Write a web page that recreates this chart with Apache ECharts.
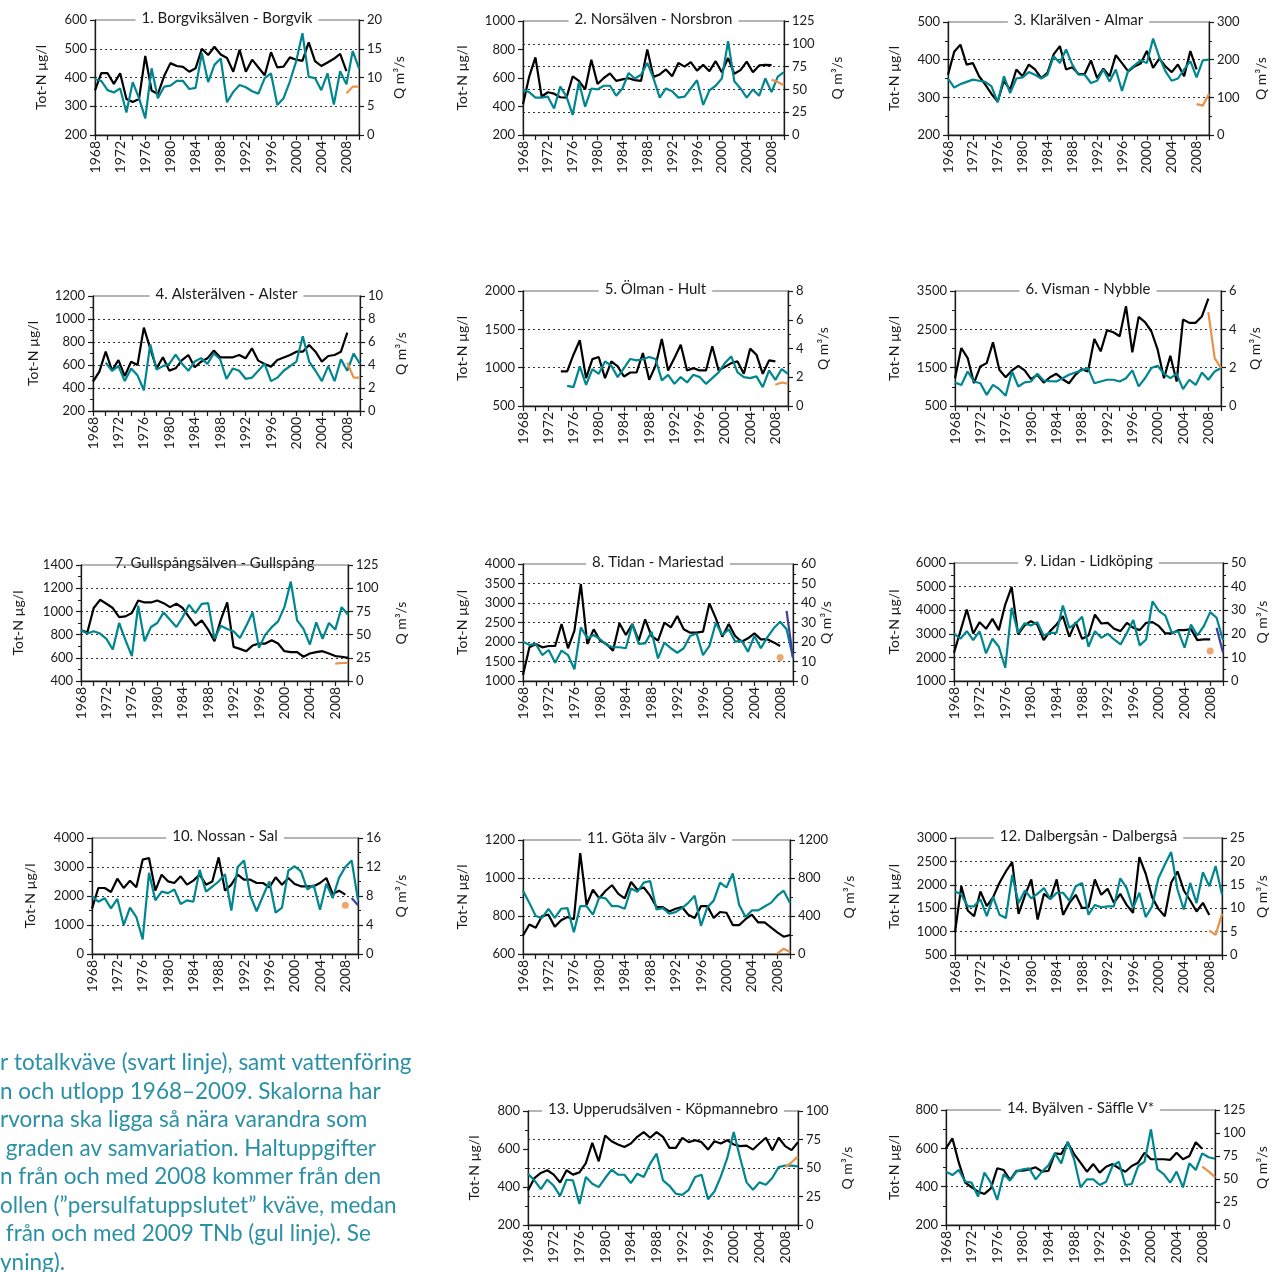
<!DOCTYPE html>
<html>
<head>
<meta charset="utf-8">
<script src="https://cdn.jsdelivr.net/npm/echarts@6/dist/echarts.min.js"></script>
<style>
  html, body { margin: 0; padding: 0; background: #fff; }
  #chart { width: 1274px; height: 1272px; }
</style>
</head>
<body>
<div id="chart"></div>
<script>
// Year categories shared by every panel
const years = ['1968','1969','1970','1971','1972','1973','1974','1975','1976','1977',
  '1978','1979','1980','1981','1982','1983','1984','1985','1986','1987',
  '1988','1989','1990','1991','1992','1993','1994','1995','1996','1997',
  '1998','1999','2000','2001','2002','2003','2004','2005','2006','2007',
  '2008','2009','2010'];

// Tot-N (µg/l), flow Q (m³/s), TNb (µg/l) per station
const n1 = [355,415,415,378,415,325,315,325,475,355,342,405,450,440,437,420,432,500,478,507,480,468,420,496,420,462,435,408,488,435,438,470,462,458,522,457,440,452,465,482,422];
const q1 = [9.7,9.4,7.8,7.4,8.1,3.9,9.2,6.4,2.9,11.6,6.4,8.4,8.6,9.4,9.4,8.0,8.2,14.2,9.2,12.2,13.3,5.7,7.5,8.7,8.3,7.6,7.2,9.9,10.7,5.2,6.4,9.3,12.8,17.7,10.1,9.9,7.8,10.7,5.3,11.1,8.8,14.6,11.6];
const tnb1 = [345,368,368];

const n2 = [415,610,745,470,500,490,465,462,612,580,520,728,558,600,632,580,590,598,585,580,800,608,625,660,612,705,680,712,652,692,648,718,640,740,630,655,715,640,688,692,690];
const q2 = [49.6,47,41,41,42,29,53,42,22,58,31,51,50,54,54,43,51,68,62,66,79,62,41,51,48,41,42,51,60,33,49,54,62,103,59,51,41,50,43,62,47,64,69];
const tnb2 = [588,572,548];

const n3 = [360,421,440,387,391,356,334,309,289,344,320,374,356,387,374,351,365,414,436,374,380,362,362,398,351,376,356,412,391,369,382,390,423,378,403,382,367,387,356,423,374];
const q3 = [150,126,135,141,147,144,141,129,87,156,111,150,153,167,160,150,160,209,191,227,187,160,160,138,144,174,142,174,117,171,185,198,191,256,207,169,144,150,174,196,153,198,200];
const tnb3 = [282,278,309];

const n4 = [455,542,716,551,643,504,629,600,925,745,571,667,551,571,643,687,580,629,658,725,667,667,667,687,658,745,638,609,586,643,665,687,716,716,774,716,629,678,687,716,881];
const q4 = [4.2,3.5,3.9,2.6,3.7,3.1,1.8,5.8,3.6,3.9,4.1,4.9,4.1,3.5,4.3,4.6,4.1,5.0,4.5,2.8,3.7,3.5,2.8,2.9,3.5,4.1,2.6,2.9,3.5,3.9,4.3,6.5,4.3,3.5,2.6,3.9,2.6,4.5,3.5,5.0,4.1];
const tnb4 = [620,490,490];

const n5 = [951,951,1169,1357,863,1112,1139,863,1082,1016,885,937,937,1191,841,1025,1375,964,1125,1300,964,994,964,964,1279,964,1010,1060,1082,920,1248,1169,920,1095,1082];
const q5 = [1.40,1.31,2.76,1.47,2.57,2.24,3.10,2.80,2.01,2.64,3.27,3.17,3.25,3.41,3.27,1.78,2.17,1.54,2.01,1.64,2.17,2.01,1.54,1.94,2.34,2.99,3.45,2.34,2.01,1.94,2.06,1.31,2.48,1.82,2.57,2.24];
const tnb5 = [776,806,790];

const n6 = [1225,2013,1750,1094,1531,1619,2161,1444,1251,1427,1549,1427,1199,1313,1111,1250,1339,1199,1094,1313,1461,1400,2249,1925,2476,2424,2319,3106,1899,2826,2686,2450,1969,1225,1811,1138,2756,2669,2669,2844,3299];
const q6 = [1.23,1.10,1.80,1.28,1.19,0.58,1.10,0.88,0.53,1.80,1.02,1.23,1.28,1.68,1.33,1.30,1.28,1.45,1.63,1.75,1.86,1.98,1.19,1.28,1.37,1.37,1.28,1.45,1.86,1.02,1.45,1.98,2.10,1.68,1.45,1.68,0.88,1.37,1.10,1.75,1.37,1.80,1.98];
const tnb6 = [2950,1750,1490];

const n7 = [837,820,1029,1100,1066,1029,951,957,986,1094,1077,1077,1094,1071,1037,1066,1029,951,877,923,843,743,929,1077,694,677,657,706,723,723,751,723,657,649,649,609,637,649,657,637,615,609,600];
const q7 = [54.6,51.1,53.6,51.1,45.4,33.9,62.5,43.9,26.8,81.1,42.9,58.2,62.5,73.9,66.1,58.2,68.9,82.1,73.2,83.2,83.9,45.4,59.6,56.1,53.6,46.4,59.6,73.9,35.7,50.0,58.0,64.3,79.6,107.1,65.4,56.1,39.3,63.2,45.4,62.5,55.4,79.6,71.4];
const tnb7 = [550,555,557];

const n8 = [1154,1863,1949,1863,1897,1897,2462,1838,2291,3487,1949,2325,2034,1949,1778,2479,2179,2462,2034,2581,2154,2034,2496,2376,2667,2325,2239,2239,2265,2991,2607,2137,2462,2154,2009,2094,2222,2068,2068,1990,1897];
const q8 = [20.2,18.5,19.0,13.3,15.9,9.4,15.6,13.3,6.0,27.5,21.9,23.6,21.4,18.5,17.3,17.3,16.8,29.2,19.0,19.3,25.3,11.6,19.7,16.8,14.5,16.8,23.1,24.4,13.3,18.0,29.9,23.6,26.5,20.2,20.7,15.0,23.1,16.8,22.4,27.0,30.4,26.5,12.1];
const dot8 = [1600];
const blue8 = [2800,1600];

const n9 = [2197,3113,4028,3014,3493,3211,3634,3155,4239,4986,2972,3352,3535,3394,2732,3113,3394,3746,2873,3493,2789,2930,3817,3437,3465,3211,3113,3465,3254,3155,3465,3493,3324,3014,3014,3155,3155,3200,2732,2761,2761];
const q9 = [20.1,17.9,21.1,17.3,21.1,11.7,17.9,14.5,5.6,31.0,20.4,24.4,23.5,24.9,19.3,20.4,20.4,32.0,22.5,24.4,27.2,14.5,21.1,18.3,20.0,17.6,15.5,20.4,25.8,15.1,17.6,33.8,29.6,27.7,20.4,21.1,14.1,23.9,19.3,23.2,29.2,26.8,17.3];
const dot9 = [2270];
const blue9 = [3250,2200];

const n10 = [1563,2276,2276,2138,2598,2276,2529,2299,3253,3310,2184,2736,2506,2448,2678,2391,2529,2736,2391,2500,3333,2184,2391,2736,2563,2563,2448,2448,2299,2644,2391,2621,2414,2333,2333,2333,2448,2621,2069,2184,2046];
const q10 = [8.0,7.2,7.7,6.3,7.6,4.0,6.4,5.1,2.0,11.2,7.4,8.6,8.4,8.9,6.9,7.4,7.2,11.6,8.6,9.3,10.0,11.0,6.0,12.0,12.9,8.0,5.9,8.0,10.0,5.7,6.4,11.5,12.1,11.4,8.9,9.5,6.1,9.7,7.7,10.5,12.0,12.9,7.4];
const dot10 = [1680];
const blue10 = [1930,1680];

const n11 = [697,755,738,800,807,743,778,795,783,1131,859,938,893,933,962,916,893,979,938,950,907,847,847,824,838,847,807,790,852,852,790,821,817,752,752,783,807,766,766,740,714,691,700];
const q11 = [666,538,400,379,476,379,476,483,228,503,503,414,597,586,503,503,476,690,655,752,769,469,483,424,441,483,538,614,297,493,562,752,700,848,517,390,459,459,500,538,614,666,538];
const tnb11 = [602,628,611];

const n12 = [986,1971,1450,1329,1857,1543,1736,2043,2286,2486,1379,1771,2114,1257,1807,1700,2114,1357,1614,1786,1500,1521,2114,1786,1914,1614,1807,1571,1400,2593,2236,1736,1486,1329,2043,2286,1879,1664,1429,1614,1357];
const q12 = [13.6,12.9,10.4,10.4,11.9,8.3,12.4,8.6,7.9,17.1,11.1,13.8,12.1,13.1,14.3,11.9,13.3,13.3,11.6,14.7,15.4,8.6,10.7,10.2,10.4,10.4,16.4,14.3,10.0,13.3,8.1,10.4,16.4,19.3,22.0,14.0,9.7,15.4,11.1,17.7,14.7,19.0,12.9];
const tnb12 = [1020,930,1380];

const n13 = [382,447,474,488,465,424,488,465,477,526,632,535,671,641,624,611,629,664,689,659,689,664,606,606,659,636,646,636,597,641,629,646,624,615,618,597,629,659,594,659,615,594,636];
const q13 = [45.0,39.1,31.5,39.7,34.4,25.6,39.7,39.1,18.5,42.1,36.2,33.2,41.2,48.5,44.1,44.1,36.8,45.0,42.1,53.8,62.6,39.1,34.4,27.4,26.5,30.9,42.1,44.1,22.6,29.4,42.6,58.8,81.5,58.8,37.4,30.9,37.4,35.3,41.2,50.9,52.1,52.1,51.5];
const tnb13 = [505,530,560];

const n14 = [600,652,525,421,397,374,362,391,496,487,435,483,483,490,501,478,483,574,570,630,570,525,478,518,473,504,518,496,478,508,525,577,543,543,543,540,577,543,560,632,598];
const q14 = [58.0,54.3,59.8,47.1,46.0,30.8,56.9,46.0,27.2,55.4,48.2,58.0,60.5,61.6,49.6,58.0,65.0,77.9,67.0,90.6,71.4,40.9,49.6,49.6,43.5,47.1,64.1,68.8,43.5,44.6,64.1,68.8,104.0,60.5,55.4,46.0,58.0,40.9,67.0,59.8,77.9,73.6,72.0];
const tnb14 = [505,480,450];

// Station panels: series with their first year, axis ranges [min, max, step]
const stations = [
  { title: '1. Borgviksälven - Borgvik', n: [1968, n1], q: [1968, q1], tnb: [2008, tnb1], yl: [200, 600, 100], yr: [0, 20, 5], split: 'L', minorL: false, minorR: false },
  { title: '2. Norsälven - Norsbron', n: [1968, n2], q: [1968, q2], tnb: [2008, tnb2], yl: [200, 1000, 200], yr: [0, 125, 25], split: 'R', minorL: false, minorR: false },
  { title: '3. Klarälven - Almar', n: [1968, n3], q: [1968, q3], tnb: [2008, tnb3], yl: [200, 500, 100], yr: [0, 300, 100], split: 'L', minorL: true, minorR: true },
  { title: '4. Alsterälven - Alster', n: [1968, n4], q: [1970, q4], tnb: [2008, tnb4], yl: [200, 1200, 200], yr: [0, 10, 2], split: 'L', minorL: true, minorR: true },
  { title: '5. Ölman - Hult', n: [1974, n5], q: [1975, q5], tnb: [2008, tnb5], yl: [500, 2000, 500], yr: [0, 8, 2], split: 'L', minorL: true, minorR: true },
  { title: '6. Visman - Nybble', n: [1968, n6], q: [1968, q6], tnb: [2008, tnb6], yl: [500, 3500, 1000], yr: [0, 6, 2], split: 'L', minorL: true, minorR: true },
  { title: '7. Gullspångsälven - Gullspång', n: [1968, n7], q: [1968, q7], tnb: [2008, tnb7], yl: [400, 1400, 200], yr: [0, 125, 25], split: 'L', minorL: true, minorR: false, plainTitle: true },
  { title: '8. Tidan - Mariestad', n: [1968, n8], q: [1968, q8], dot: [2008, dot8], blue: [2009, blue8], yl: [1000, 4000, 500], yr: [0, 60, 10], split: 'L', minorL: true, minorR: true },
  { title: '9. Lidan - Lidköping', n: [1968, n9], q: [1968, q9], dot: [2008, dot9], blue: [2009, blue9], yl: [1000, 6000, 1000], yr: [0, 50, 10], split: 'L', minorL: true, minorR: true },
  { title: '10. Nossan - Sal', n: [1968, n10], q: [1968, q10], dot: [2008, dot10], blue: [2009, blue10], yl: [0, 4000, 1000], yr: [0, 16, 4], split: 'L', minorL: true, minorR: true },
  { title: '11. Göta älv - Vargön', n: [1968, n11], q: [1968, q11], tnb: [2008, tnb11], yl: [600, 1200, 200], yr: [0, 1200, 400], split: 'L', minorL: true, minorR: true },
  { title: '12. Dalbergsån - Dalbergså', n: [1968, n12], q: [1968, q12], tnb: [2008, tnb12], yl: [500, 3000, 500], yr: [0, 25, 5], split: 'L', minorL: false, minorR: false },
  { title: '13. Upperudsälven - Köpmannebro', n: [1968, n13], q: [1968, q13], tnb: [2008, tnb13], yl: [200, 800, 200], yr: [0, 100, 25], split: 'R', minorL: true, minorR: false },
  { title: '14. Byälven - Säffle V*', n: [1968, n14], q: [1968, q14], tnb: [2008, tnb14], yl: [200, 800, 200], yr: [0, 125, 25], split: 'L', minorL: true, minorR: false }
];

// Plot frames: [left axis x, right axis x, top y, bottom y, left name centre x, right name centre x]
const frames = [
  [95, 359, 20, 135, 40, 400],
  [523, 784, 21, 135, 461, 838],
  [948, 1209, 22, 135, 893, 1262],
  [93, 360, 296, 411, 32, 402],
  [523, 788, 291, 406, 461, 824],
  [955, 1221, 291, 406, 893, 1256],
  [81, 348, 565, 681, 17, 402],
  [523, 793, 564, 681, 461, 824],
  [954, 1223, 563, 681, 893, 1263],
  [92, 358, 838, 954, 29, 402],
  [523, 790, 840, 954, 461, 850],
  [955, 1222, 838, 955, 893, 1263],
  [528, 798, 1111, 1225, 473, 848],
  [946, 1215, 1110, 1225, 893, 1263]
];

// Caption fragment at the lower left
const captionLines = [
  'r totalkväve (svart linje), samt vattenföring',
  'n och utlopp 1968–2009. Skalorna har',
  'rvorna ska ligga så nära varandra som',
  ' graden av samvariation. Haltuppgifter',
  'n från och med 2008 kommer från den',
  'ollen (”persulfatuppslutet” kväve, medan',
  ' från och med 2009 TNb (gul linje). Se',
  'yning).'
];

const FONT = 'Lato, "Open Sans", "Noto Sans", sans-serif';
const INK = '#1a1a1a';
const TEAL = '#00868f';
const ORANGE = '#e8924a';
const BLUE = '#3c3f9e';
const CAPTION = '#2a90a6';

// place a run of yearly values on the shared year axis
function onYears(start, values) {
  const out = new Array(years.length).fill(null);
  const off = start - 1968;
  values.forEach((v, i) => { out[off + i] = v; });
  return out;
}

const grids = [], xAxes = [], yAxes = [], series = [], graphics = [];

stations.forEach((s, i) => {
  const [xl, xr, yt, yb, nl, nr] = frames[i];
  grids.push({
    left: xl, top: yt, width: xr - xl, height: yb - yt,
    show: true, borderColor: '#6a6a6a', borderWidth: 1, containLabel: false
  });
  xAxes.push({
    type: 'category', gridIndex: i, data: years, boundaryGap: false,
    axisLine: { show: true, lineStyle: { color: INK, width: 1.3 } },
    axisTick: { show: true, interval: 1, length: 5, lineStyle: { color: INK, width: 1.2 } },
    axisLabel: { interval: 3, rotate: 90, fontSize: 14, color: INK, margin: 6, fontFamily: FONT },
    splitLine: { show: false }
  });
  const dotted = { type: [2, 3], color: '#333', width: 1 };
  const mkY = (pos, range, name, gap, split, minor) => ({
    type: 'value', gridIndex: i, position: pos,
    min: range[0], max: range[1], interval: range[2],
    name: name, nameLocation: 'middle', nameRotate: 90, nameGap: gap,
    nameTextStyle: { fontSize: 14, color: INK, fontFamily: FONT },
    axisLine: { show: true, lineStyle: { color: INK, width: 1.3 } },
    axisTick: { show: true, length: 5, lineStyle: { color: INK, width: 1.2 } },
    minorTick: { show: minor, splitNumber: 2, length: 3, lineStyle: { color: INK, width: 1 } },
    axisLabel: { fontSize: 13, color: INK, margin: 8, fontFamily: FONT, formatter: v => String(v) },
    splitLine: { show: split, showMinLine: false, showMaxLine: false, lineStyle: dotted },
    minorSplitLine: { show: false }
  });
  yAxes.push(mkY('left', s.yl, 'Tot-N µg/l', Math.max(0, xl - nl - 8), s.split === 'L', s.minorL));
  yAxes.push(mkY('right', s.yr, 'Q m³/s', Math.max(0, nr - xr - 8), s.split === 'R', s.minorR));

  const base = { type: 'line', xAxisIndex: i, showSymbol: false, symbol: 'none', connectNulls: false, silent: true, animation: false };
  series.push(Object.assign({}, base, {
    name: 'Tot-N', yAxisIndex: 2 * i, data: onYears(s.n[0], s.n[1]),
    lineStyle: { color: '#000', width: 2.2 }, itemStyle: { color: '#000' }, z: 3
  }));
  series.push(Object.assign({}, base, {
    name: 'Q', yAxisIndex: 2 * i + 1, data: onYears(s.q[0], s.q[1]),
    lineStyle: { color: TEAL, width: 2.2 }, itemStyle: { color: TEAL }, z: 4
  }));
  if (s.tnb) {
    series.push(Object.assign({}, base, {
      name: 'TNb', yAxisIndex: 2 * i, data: onYears(s.tnb[0], s.tnb[1]),
      lineStyle: { color: ORANGE, width: 2.2 }, itemStyle: { color: ORANGE }, z: 5
    }));
  }
  if (s.blue) {
    series.push(Object.assign({}, base, {
      name: 'Tot-N ny', yAxisIndex: 2 * i, data: onYears(s.blue[0], s.blue[1]),
      lineStyle: { color: BLUE, width: 2.2 }, itemStyle: { color: BLUE }, z: 5
    }));
  }
  if (s.dot) {
    series.push({
      type: 'scatter', name: 'TNb', xAxisIndex: i, yAxisIndex: 2 * i, silent: true, animation: false,
      data: s.dot[1].map((v, k) => [String(s.dot[0] + k), v]),
      symbol: 'circle', symbolSize: 7, itemStyle: { color: ORANGE }, z: 5
    });
  }

  // panel title sitting on the top frame line
  graphics.push({
    type: 'text', z: 100,
    style: {
      text: s.title, x: (xl + xr) / 2, y: yt - 2,
      align: 'center', verticalAlign: 'middle', textAlign: 'center', textVerticalAlign: 'middle',
      font: '15px ' + FONT, fill: INK,
      backgroundColor: s.plainTitle ? 'transparent' : '#fff', padding: [1, 6]
    }
  });
});

captionLines.forEach((t, k) => {
  graphics.push({
    type: 'text', z: 100,
    style: {
      text: t, x: 0, y: 1063 + k * 28.5,
      align: 'left', verticalAlign: 'middle', textAlign: 'left', textVerticalAlign: 'middle',
      font: '22.5px ' + FONT, fill: CAPTION
    }
  });
});

const chart = echarts.init(document.getElementById('chart'), null, { renderer: 'canvas' });
chart.setOption({
  animation: false,
  backgroundColor: '#fff',
  textStyle: { fontFamily: FONT },
  grid: grids,
  xAxis: xAxes,
  yAxis: yAxes,
  series: series,
  graphic: graphics
});
</script>
</body>
</html>
